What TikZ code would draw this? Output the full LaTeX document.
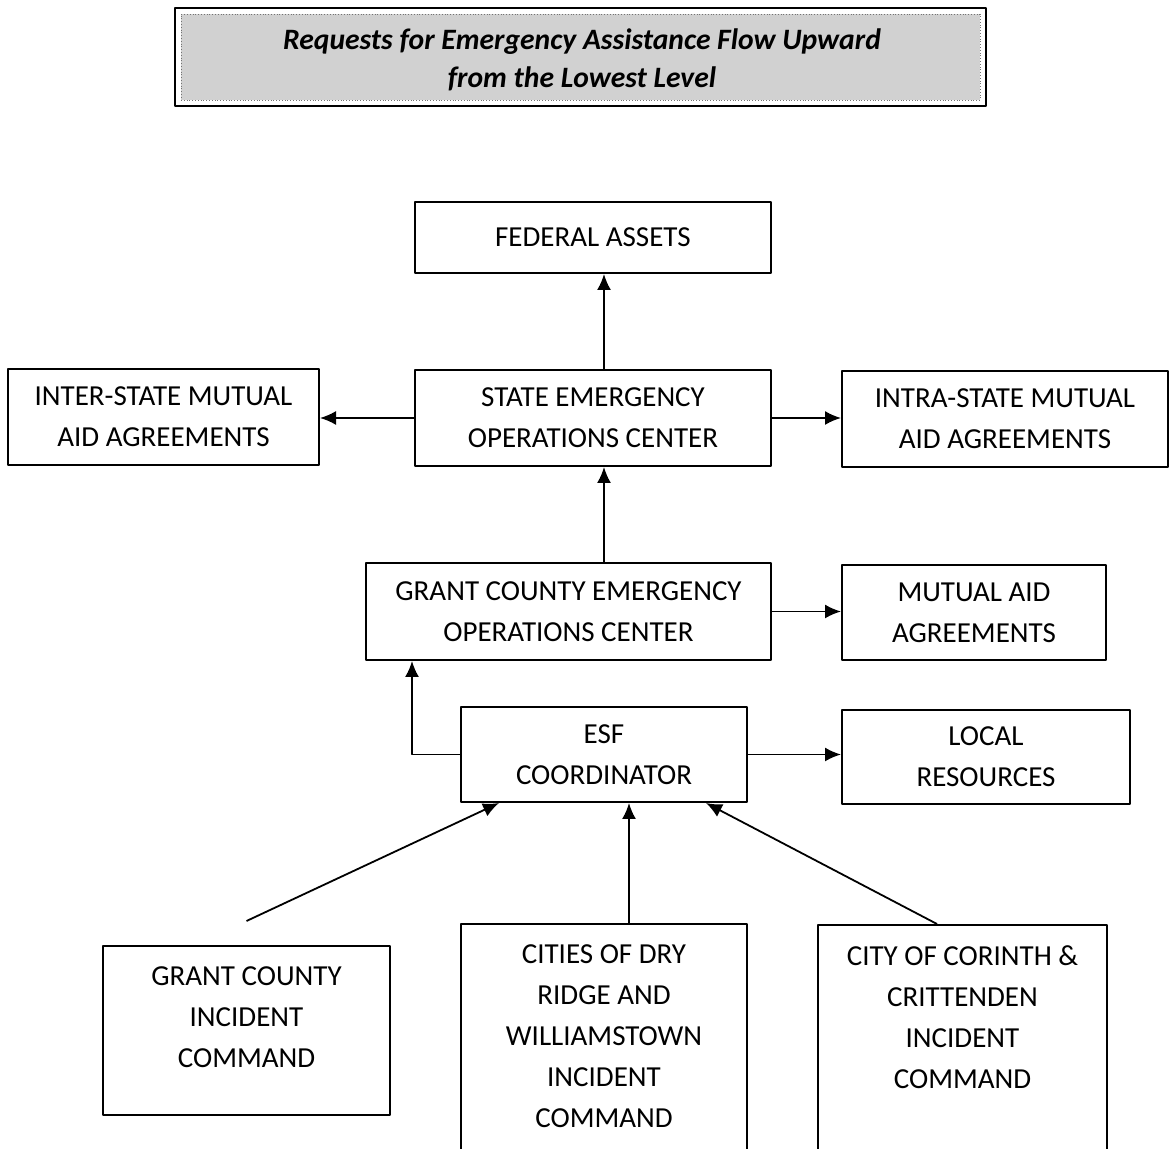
\documentclass[tikz,border=0pt]{standalone}
\usepackage{fontspec}
\setmainfont{Carlito}
\usetikzlibrary{arrows.meta,positioning,calc}

\tikzset{
  box/.style={draw, line width=1pt, align=center, inner sep=0pt, font=\fontsize{14.5}{20.5}\selectfont},
  boxtext/.style={align=center, inner sep=0pt, font=\fontsize{14.5}{20.5}\selectfont},
  flow/.style={line width=0.9pt, -{Latex[length=8pt,width=7pt]}}
}

\begin{document}
\begin{tikzpicture}[x=0.5pt, y=-0.5pt, line join=round]
\useasboundingbox (0,0) rectangle (1169,1149);
\clip (0,0) rectangle (1169,1149);
% title banner
\node (ttl) [draw, line width=0.9pt, minimum width=405.5pt, minimum height=49pt] at (580.5,57) {};
\node (ttlfill) [fill=black!18, draw=black!55, densely dotted, minimum width=399.5pt, minimum height=43pt] at (580.5,57) {};
\node (ttltext) [align=center, font=\fontsize{14.8}{19}\selectfont\bfseries\itshape] at (582,60)
  {Requests for Emergency Assistance Flow Upward\\from the Lowest Level};
% boxes
\node (fed) [box, minimum width=178pt, minimum height=35.5pt] at (593,237.5) {FEDERAL ASSETS};
\node (seoc) [box, minimum width=178pt, minimum height=48pt] at (593,418) {STATE EMERGENCY\\OPERATIONS CENTER};
\node (inter) [box, minimum width=155.5pt, minimum height=48pt] at (163.5,417) {INTER-STATE MUTUAL\\AID AGREEMENTS};
\node (intra) [box, minimum width=163pt, minimum height=48pt] at (1005,419) {INTRA-STATE MUTUAL\\AID AGREEMENTS};
\node (gceoc) [box, minimum width=202.5pt, minimum height=48.5pt] at (568.5,611.5) {GRANT COUNTY EMERGENCY\\OPERATIONS CENTER};
\node (mutual) [box, minimum width=132pt, minimum height=47.5pt] at (974,612.5) {MUTUAL AID\\AGREEMENTS};
\node (esf) [box, minimum width=143pt, minimum height=47.5pt] at (604,754.5) {ESF\\COORDINATOR};
\node (local) [box, minimum width=144pt, minimum height=47pt] at (986,757) {LOCAL\\RESOURCES};
% incident commands
\node (gcic) [box, minimum width=143.5pt, minimum height=84.5pt] at (246.5,1030.5) {};
\node (gcic-txt) [boxtext, below=10.5pt of gcic.north] {GRANT COUNTY\\INCIDENT\\COMMAND};
\node (dry) [box, minimum width=143pt, minimum height=118pt] at (604,1042) {};
\node (dry-txt) [boxtext, below=10.5pt of dry.north] {CITIES OF DRY\\RIDGE AND\\WILLIAMSTOWN\\INCIDENT\\COMMAND};
\node (cor) [box, minimum width=144.5pt, minimum height=117.5pt] at (962.5,1042.5) {};
\node (cor-txt) [boxtext, below=10.5pt of cor.north] {CITY OF CORINTH \&\\CRITTENDEN\\INCIDENT\\COMMAND};
% requests
\draw[flow] (seoc.north -| esf) -- (fed.south -| esf);
\draw[flow] (seoc.west) -- (seoc.west -| inter.east);
\draw[flow] (seoc.east) -- (seoc.east -| intra.west);
\draw[flow] (gceoc.north -| esf) -- (seoc.south -| esf);
\draw[flow] (gceoc.east) -- (gceoc.east -| mutual.west);
\draw[flow] (esf.west) -| ([xshift=23.5pt]gceoc.south west);
\draw[flow] (esf.east) -- (esf.east -| local.west);
\coordinate (gcic-tail) at ([yshift=12pt]gcic.north);
\draw[flow] (gcic-tail) -- ([xshift=19.5pt]esf.south west);
\draw[flow] ([xshift=12.5pt]dry.north) -- ([xshift=12.5pt]esf.south);
\draw[flow] ([xshift=-12.75pt]cor.north) -- ([xshift=-21pt]esf.south east);
\end{tikzpicture}
\end{document}
